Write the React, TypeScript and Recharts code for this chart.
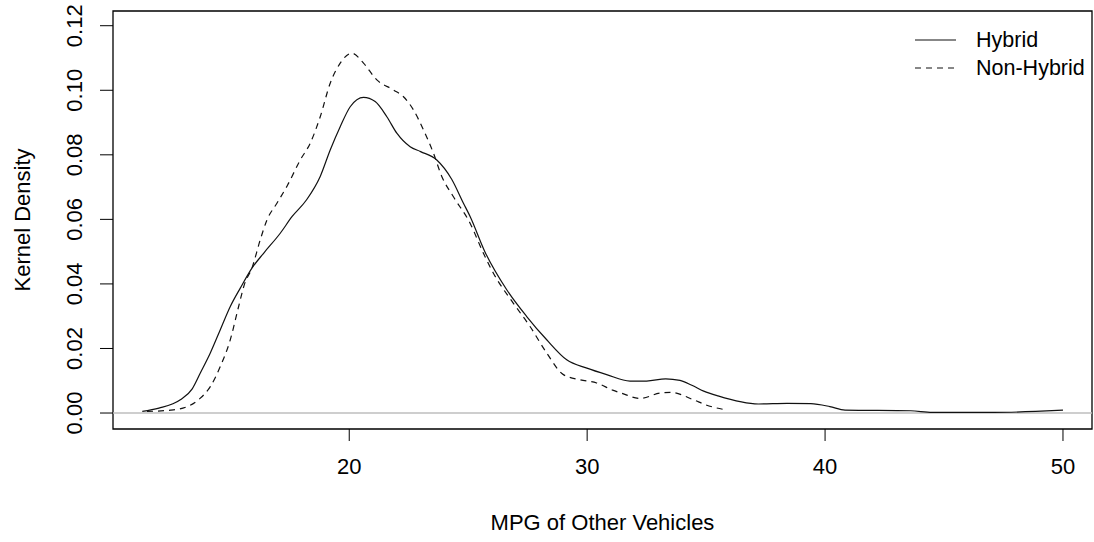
import React from 'react'
import { LineChart, Line, XAxis, YAxis, ReferenceLine, ReferenceArea, Legend } from 'recharts'

// kernel density estimates
const hybridMpg = [11.3, 12.0, 12.9, 13.4, 13.74, 14.16, 14.58, 15.0, 15.42, 15.91, 16.4, 17.1, 17.6, 18.2, 18.78, 19.2, 19.62, 20.04, 20.6, 21.09, 21.58, 22.0, 22.56, 23.0, 23.68, 24.3, 24.8, 25.08, 25.7, 26.62, 27.46, 28.3, 29.14, 29.99, 30.82, 31.8, 32.5, 33.3, 33.9, 34.4, 34.9, 35.5, 37.2, 38.4, 39.4, 40.2, 40.84, 43.6, 44.5, 47.1, 48.85, 50.0]
const hybridDensity = [0.0005, 0.0015, 0.0041, 0.0075, 0.0124, 0.0186, 0.0258, 0.033, 0.0387, 0.0449, 0.0495, 0.0557, 0.0609, 0.066, 0.0733, 0.0815, 0.0887, 0.0949, 0.0978, 0.0965, 0.0918, 0.0867, 0.0825, 0.081, 0.0784, 0.0725, 0.065, 0.0609, 0.05, 0.0382, 0.0299, 0.0227, 0.0165, 0.0139, 0.0119, 0.0099, 0.0099, 0.0106, 0.0101, 0.0086, 0.0068, 0.0053, 0.0028, 0.003, 0.0029, 0.002, 0.0009, 0.0007, 0.0002, 0.0002, 0.0005, 0.0009]

const nonHybridMpg = [11.5, 12.5, 13.2, 13.74, 14.16, 14.58, 15.0, 15.35, 15.6, 15.91, 16.26, 16.54, 16.96, 17.4, 17.94, 18.36, 18.78, 19.2, 19.62, 20.11, 20.6, 21.16, 21.86, 22.28, 22.7, 23.12, 23.54, 23.89, 24.38, 25.08, 25.64, 26.06, 26.9, 27.6, 28.3, 29.0, 29.7, 30.4, 31.07, 31.5, 32.23, 33.07, 33.5, 34.47, 35.0, 35.88]
const nonHybridDensity = [0.0005, 0.0009, 0.002, 0.0046, 0.0082, 0.0144, 0.0227, 0.033, 0.04, 0.0449, 0.0537, 0.0598, 0.065, 0.0705, 0.0784, 0.0836, 0.0918, 0.1022, 0.1084, 0.1115, 0.1084, 0.1032, 0.1001, 0.098, 0.0939, 0.0877, 0.0805, 0.0733, 0.067, 0.0588, 0.0495, 0.0433, 0.034, 0.0268, 0.0186, 0.0119, 0.0103, 0.0093, 0.0071, 0.006, 0.0045, 0.0062, 0.0064, 0.0041, 0.0025, 0.0009]

const xTicks = [20, 30, 40, 50]
const yTicks = [0, 0.02, 0.04, 0.06, 0.08, 0.1, 0.12]

const X_MIN = 10.07
const X_MAX = 51.22
const Y_MIN = -0.00495
const Y_MAX = 0.12456

const FONT = '"Liberation Sans", Arial, sans-serif'

const hybridData = hybridMpg.map((x, i) => ({ x, y: hybridDensity[i] }))
const nonHybridData = nonHybridMpg.map((x, i) => ({ x, y: nonHybridDensity[i] }))

function RotatedTick(props: any) {
  const { x, y, payload } = props
  return (
    <text x={x} y={y} transform={`rotate(-90, ${x}, ${y})`} textAnchor="middle"
      fontSize={22} fill="#000" fontFamily={FONT}>
      {payload.value.toFixed(2)}
    </text>
  )
}

function LegendBox() {
  const rows = [
    { name: 'Hybrid', dash: undefined },
    { name: 'Non-Hybrid', dash: '6 5' },
  ]
  return (
    <div style={{ fontFamily: FONT, fontSize: 21.5, color: '#000' }}>
      {rows.map(r => (
        <div key={r.name} style={{ display: 'flex', alignItems: 'center', height: 28 }}>
          <svg width={41} height={10} style={{ marginRight: 20 }}>
            <line x1={0} x2={41} y1={5} y2={5} stroke="#111" strokeWidth={1.2} strokeDasharray={r.dash} />
          </svg>
          <span style={{ lineHeight: '28px' }}>{r.name}</span>
        </div>
      ))}
    </div>
  )
}

export default function App() {
  return (
    <div style={{ position: 'absolute', left: 0, top: 0, width: 1094, height: 542, background: '#fff' }}>
      <LineChart width={1094} height={542} margin={{ top: 11, right: 2, bottom: 0, left: 0 }}>
        <XAxis
          type="number"
          dataKey="x"
          domain={[X_MIN, X_MAX]}
          allowDataOverflow
          ticks={xTicks}
          height={113}
          tickSize={12}
          tickMargin={17}
          axisLine={false}
          tickLine={{ stroke: '#000' }}
          tick={{ fontSize: 22, fill: '#000', fontFamily: FONT }}
          label={{ value: 'MPG of Other Vehicles', position: 'center', dy: 37, fontSize: 22, fill: '#000', fontFamily: FONT }}
        />
        <YAxis
          type="number"
          dataKey="y"
          domain={[Y_MIN, Y_MAX]}
          allowDataOverflow
          ticks={yTicks}
          width={113}
          tickSize={13}
          tickMargin={18}
          axisLine={false}
          tickLine={{ stroke: '#000' }}
          tick={<RotatedTick />}
          label={{ value: 'Kernel Density', angle: -90, position: 'center', dx: -34, fontSize: 22, fill: '#000', fontFamily: FONT }}
        />
        <ReferenceLine y={0} stroke="#bebebe" strokeWidth={1.5} />
        <ReferenceArea x1={X_MIN} x2={X_MAX} y1={Y_MIN} y2={Y_MAX} fill="none" stroke="#000" strokeWidth={1.3} />
        <Line data={hybridData} dataKey="y" type="monotone" stroke="#111" strokeWidth={1.2} dot={false} isAnimationActive={false} />
        <Line data={nonHybridData} dataKey="y" type="monotone" stroke="#111" strokeWidth={1.2} strokeDasharray="6 5" dot={false} isAnimationActive={false} />
        <Legend layout="horizontal" verticalAlign="middle" align="center" content={<LegendBox />}
          wrapperStyle={{ left: 915, top: 26, width: 180 }} />
      </LineChart>
    </div>
  )
}
